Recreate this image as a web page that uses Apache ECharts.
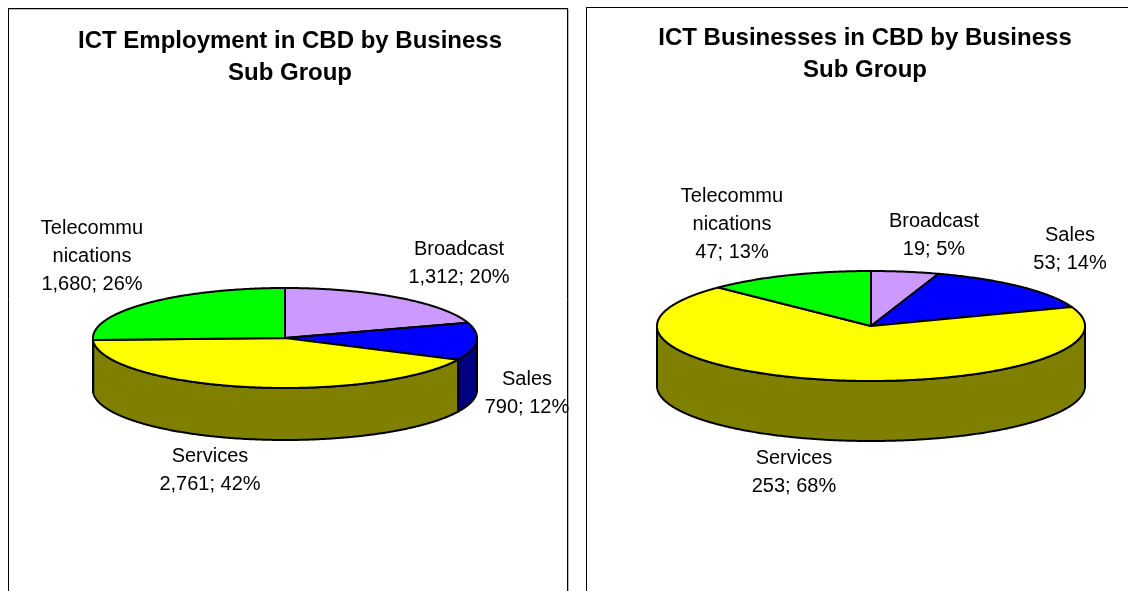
<!DOCTYPE html>
<html>
<head>
<meta charset="utf-8">
<style>html,body{margin:0;padding:0;background:#fff}#c{width:1128px;height:591px}</style>
<script src="https://cdn.jsdelivr.net/npm/echarts@6/dist/echarts.min.js"></script>
</head>
<body>
<div id="c"></div>
<script>
// Data
const categories = ['Broadcast', 'Sales', 'Services', 'Telecommunications'];
const labelNames = ['Broadcast', 'Sales', 'Services', 'Telecommu\nnications'];
const employmentValues = [1312, 790, 2761, 1680];
const businessValues = [19, 53, 253, 47];
const titleEmployment = 'ICT Employment in CBD by Business\nSub Group';
const titleBusinesses = 'ICT Businesses in CBD by Business\nSub Group';

// Styles and layout
const topColors = ['#CC99FF', '#0000FF', '#FFFF00', '#00FF00'];
const sideColors = ['#666699', '#000080', '#808000', '#008000'];
const FONT = '"Liberation Sans", Arial, sans-serif';
const pieEmployment = {cx: 285, cy: 338, rx: 192, ry: 50, depth: 52,
  labels: [[459, 263], [527, 393], [210, 470], [92, 256]]};
const pieBusinesses = {cx: 871, cy: 326, rx: 214, ry: 55, depth: 60,
  labels: [[934, 235], [1070, 249], [794, 472], [732, 224]]};

function slices(values) {
  const total = values.reduce((a, b) => a + b, 0);
  let acc = 0;
  return values.map(v => {
    const start = acc / total * 360;
    acc += v;
    return {start, end: acc / total * 360, pct: Math.round(v / total * 100)};
  });
}
function pt(g, deg, dy) {
  const t = deg * Math.PI / 180;
  return [g.cx + g.rx * Math.sin(t), g.cy - g.ry * Math.cos(t) + (dy || 0)];
}
function arc(g, a0, a1, dy) {
  const out = [];
  const n = Math.max(2, Math.ceil((a1 - a0) * 2));
  for (let i = 0; i <= n; i++) out.push(pt(g, a0 + (a1 - a0) * i / n, dy));
  return out;
}
const edge = {stroke: '#000', lineWidth: 2, lineJoin: 'round'};

function sideRenderer(values, g) {
  const sl = slices(values);
  return (params) => {
    const i = params.dataIndex, s = sl[i];
    const a0 = Math.max(s.start, 90), a1 = Math.min(s.end, 270);
    if (a1 <= a0) return {type: 'group', children: []};
    const points = arc(g, a0, a1, 0).concat(arc(g, a0, a1, g.depth).reverse());
    return {type: 'polygon', shape: {points}, style: Object.assign({fill: sideColors[i]}, edge)};
  };
}
function topRenderer(values, g) {
  const sl = slices(values);
  return (params) => {
    const i = params.dataIndex, s = sl[i];
    const points = [[g.cx, g.cy]].concat(arc(g, s.start, s.end, 0));
    return {type: 'polygon', shape: {points}, style: Object.assign({fill: topColors[i]}, edge)};
  };
}
function labelRenderer(values, g) {
  const sl = slices(values);
  return (params) => {
    const i = params.dataIndex;
    return {
      type: 'text',
      style: {
        x: g.labels[i][0], y: g.labels[i][1],
        text: labelNames[i] + '\n' + values[i].toLocaleString('en-US') + '; ' + sl[i].pct + '%',
        align: 'center', verticalAlign: 'middle',
        font: '20px ' + FONT, lineHeight: 28, fill: '#000'
      }
    };
  };
}
function pieSeries(name, values, g) {
  const data = values.map((v, i) => ({name: categories[i], value: v}));
  const base = {type: 'custom', coordinateSystem: 'none', name, data, silent: true, animation: false, clip: false};
  return [
    Object.assign({}, base, {z: 2, renderItem: sideRenderer(values, g)}),
    Object.assign({}, base, {z: 3, renderItem: topRenderer(values, g)}),
    Object.assign({}, base, {z: 4, renderItem: labelRenderer(values, g)})
  ];
}
function titleOf(text, x, y) {
  return {
    text, left: x, top: y, textAlign: 'center',
    textStyle: {fontFamily: FONT, fontSize: 24, fontWeight: 'bold', color: '#000', lineHeight: 32}
  };
}
function vline(x, y0, color) {
  return {type: 'line', shape: {x1: x, y1: y0, x2: x, y2: 591}, style: {stroke: color, lineWidth: 1}, silent: true};
}
function hline(x0, x1, y, color) {
  return {type: 'line', shape: {x1: x0, y1: y, x2: x1, y2: y}, style: {stroke: color, lineWidth: 1}, silent: true};
}

const chart = echarts.init(document.getElementById('c'), null, {renderer: 'canvas'});
chart.setOption({
  animation: false,
  backgroundColor: '#fff',
  title: [titleOf(titleEmployment, 285, 20), titleOf(titleBusinesses, 860, 17)],
  graphic: [
    hline(8, 568, 8.5, '#000'), hline(9, 569, 9.5, '#bbb'),
    vline(8.5, 8, '#000'), vline(567.5, 8, '#000'), vline(568.5, 9, '#bbb'),
    hline(586, 1128, 7.5, '#000'), vline(586.5, 7, '#000')
  ],
  series: pieSeries('ICT Employment', employmentValues, pieEmployment)
    .concat(pieSeries('ICT Businesses', businessValues, pieBusinesses))
});
</script>
</body>
</html>
